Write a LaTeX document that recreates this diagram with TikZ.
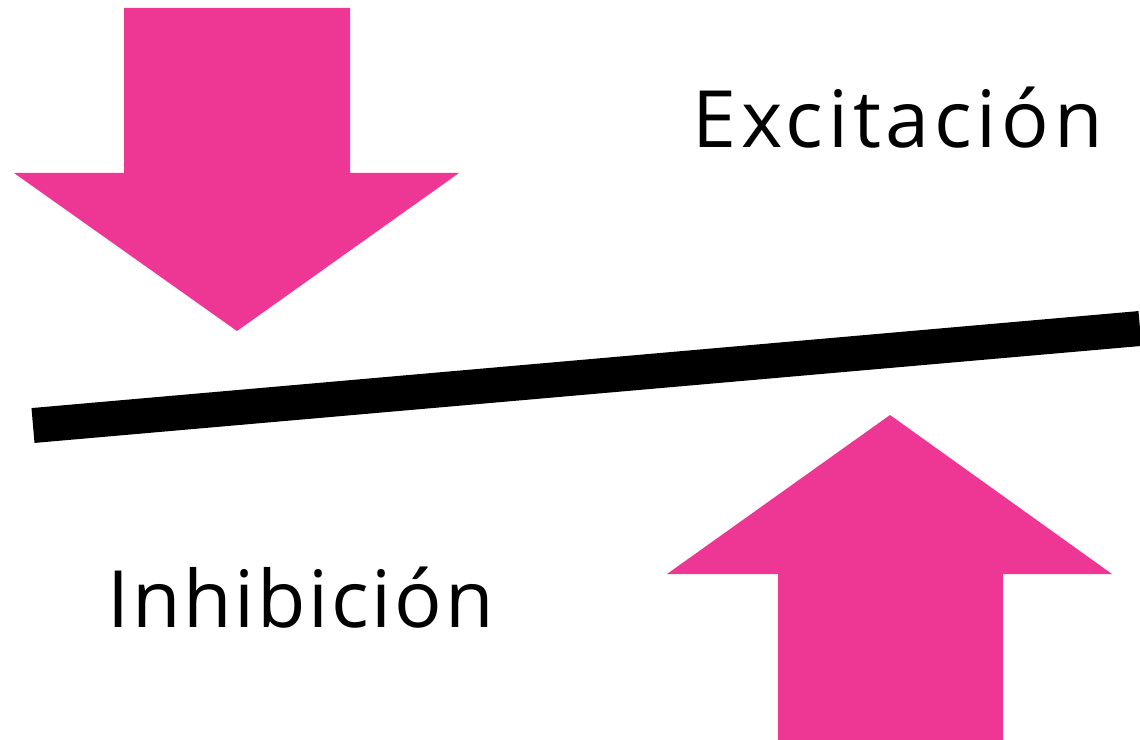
\documentclass[tikz,border=0pt]{standalone}
\usepackage{fontspec}
\setmainfont[LetterSpace=6]{Open Sans}
\newfontfamily\inhfont[LetterSpace=3.5]{Open Sans}
\usetikzlibrary{positioning}
\definecolor{pinkarrow}{HTML}{EE3794}

\begin{document}
\begin{tikzpicture}[
			x=0.02cm,y=-0.02cm,
			blockarrow/.style={fill=pinkarrow,draw=none},
			bar/.style={black,line width=0.7cm},
			lbl/.style={font=\fontsize{45}{50}\selectfont,inner sep=0pt}
		]
		\useasboundingbox (0,0) rectangle (1140,740);

		% Arrow from above
		\fill[blockarrow] (124,8) -- (350,8) -- (350,173) -- (459,173)
		-- (237,331) -- (14,173) -- (124,173) -- cycle;

		% Arrow from below
		\fill[blockarrow] (778,740) -- (1003,740) -- (1003,574) -- (1112,574)
		-- (890,415) -- (667,574) -- (778,574) -- cycle;

		% Tilted bar
		\coordinate (L) at (33,425.5);
		\coordinate (R) at (1140,328.5);
		\draw[bar] (L) -- (R);

		% Labels
		\node[lbl,anchor=base east] (exc) at (1103,148) {Excitación};
		\node[lbl,anchor=base west,font=\inhfont\fontsize{45}{50}\selectfont] (inh) at (107,627) {Inhibición};

	\end{tikzpicture}
\end{document}
